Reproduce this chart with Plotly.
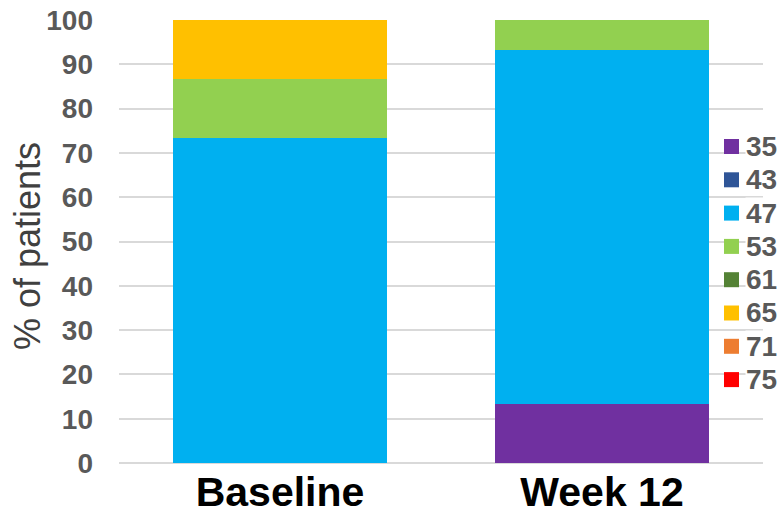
import plotly.graph_objects as go

# Time points on the x axis
timepoints = ["Baseline", "Week 12"]

# Category labels and the percentage of patients in each, per time point
groups = ["35", "43", "47", "53", "61", "65", "71", "75"]
pct_baseline = [0.0, 0.0, 73.3, 13.3, 0.0, 13.4, 0.0, 0.0]
pct_week12 = [13.3, 0.0, 80.0, 6.7, 0.0, 0.0, 0.0, 0.0]

colors = ["#7030A0", "#2F5597", "#00B0F0", "#92D050",
          "#548235", "#FFC000", "#ED7D31", "#FF0000"]

yticks = list(range(0, 101, 10))

fig = go.Figure()
for g, b, w, c in zip(groups, pct_baseline, pct_week12, colors):
    fig.add_trace(go.Bar(
        name=g,
        x=timepoints,
        y=[b, w],
        marker=dict(color=c, line=dict(width=0)),
        hoverinfo="name+y",
        showlegend=False,
    ))

# Plot-area geometry in pixels (used to place the legend key)
W, H = 782, 513
ML, MR, MT, MB = 119, 19, 20, 50
pw, ph = W - ML - MR, H - MT - MB

def px_x(x):
    return (x - ML) / pw

def px_y(y):
    return (H - MB - y) / ph

# Legend key: coloured square + bold label for each group
shapes = []
annotations = []
key_top, key_step, sq = 146.5, 33.3, 15
for i, (g, c) in enumerate(zip(groups, colors)):
    cy = key_top + i * key_step
    shapes.append(dict(
        type="rect", xref="paper", yref="paper",
        x0=px_x(724), x1=px_x(724 + sq),
        y0=px_y(cy + sq / 2), y1=px_y(cy - sq / 2),
        fillcolor=c, line=dict(width=0), layer="above",
    ))
    annotations.append(dict(
        xref="paper", yref="paper", x=px_x(745), y=px_y(cy),
        xanchor="left", yanchor="middle", showarrow=False,
        text=f"<b>{g}</b>", font=dict(size=28, color="#595959"),
        bgcolor="white", borderpad=0,
    ))

# Y axis title
annotations.append(dict(
    xref="paper", yref="paper", x=px_x(28), y=px_y(246),
    xanchor="center", yanchor="middle", showarrow=False, textangle=-90,
    text="% of patients", font=dict(size=36, color="#404040"),
))

fig.update_layout(
    barmode="stack",
    bargap=0.335,
    width=W,
    height=H,
    margin=dict(l=ML, r=MR, t=MT, b=MB, autoexpand=False),
    paper_bgcolor="white",
    plot_bgcolor="white",
    showlegend=False,
    font=dict(family="Liberation Sans, Arial, sans-serif", color="#595959"),
    xaxis=dict(
        tickvals=timepoints,
        ticktext=[f"<b>{t}</b>" for t in timepoints],
        tickfont=dict(size=41, color="#000000"),
        ticks="",
        showline=False,
        showgrid=False,
        ticklabelstandoff=1,
        automargin=False,
    ),
    yaxis=dict(
        range=[0, 100],
        tickvals=yticks,
        ticktext=[f"<b>{v}</b>" for v in yticks],
        tickfont=dict(size=28, color="#595959"),
        showgrid=True,
        gridcolor="#D9D9D9",
        gridwidth=1.5,
        zeroline=True,
        zerolinecolor="#D9D9D9",
        zerolinewidth=1.5,
        ticks="",
        ticklabelstandoff=25,
        automargin=False,
    ),
    shapes=shapes,
    annotations=annotations,
)

fig.write_html("out.html")
